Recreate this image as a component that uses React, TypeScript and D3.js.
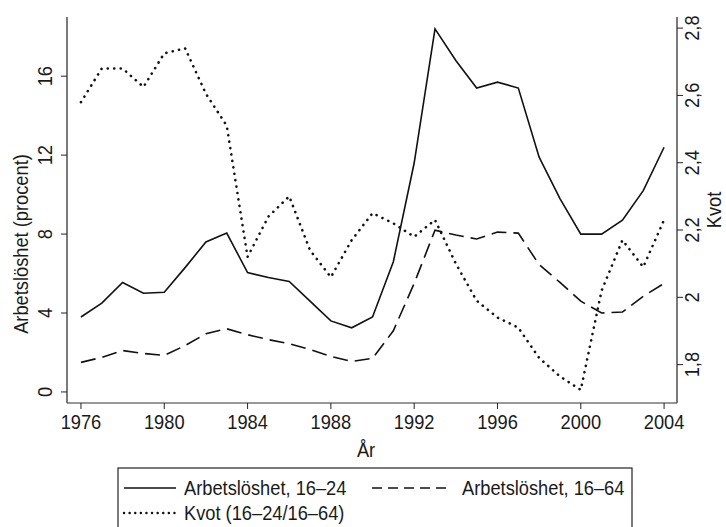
import React from 'react';
import { scaleLinear, line } from 'd3';

// Arbetslöshet bland unga (16-24) och hela arbetskraften (16-64), samt kvoten
const years = [1976, 1977, 1978, 1979, 1980, 1981, 1982, 1983, 1984, 1985, 1986, 1987, 1988, 1989, 1990,
  1991, 1992, 1993, 1994, 1995, 1996, 1997, 1998, 1999, 2000, 2001, 2002, 2003, 2004];
const unemp1624 = [3.8, 4.5, 5.55, 5.0, 5.05, 6.3, 7.6, 8.05, 6.05, 5.8, 5.6, 4.6, 3.6, 3.25, 3.8,
  6.6, 11.6, 18.4, 16.8, 15.4, 15.7, 15.4, 11.9, 9.8, 8.0, 8.0, 8.7, 10.2, 12.4];
const unemp1664 = [1.5, 1.75, 2.1, 1.95, 1.85, 2.35, 2.95, 3.2, 2.9, 2.65, 2.45, 2.15, 1.8, 1.55, 1.7,
  3.1, 5.5, 8.2, 7.95, 7.75, 8.1, 8.05, 6.45, 5.55, 4.6, 4.0, 4.05, 4.85, 5.5];
const kvot = [2.58, 2.68, 2.68, 2.625, 2.725, 2.74, 2.605, 2.51, 2.12, 2.24, 2.3, 2.14, 2.06, 2.17, 2.25,
  2.22, 2.18, 2.23, 2.1, 1.99, 1.94, 1.91, 1.82, 1.765, 1.725, 2.02, 2.17, 2.09, 2.23];

const xTicks = [1976, 1980, 1984, 1988, 1992, 1996, 2000, 2004];
const leftTicks = [0, 4, 8, 12, 16];
const rightTicks = [1.8, 2, 2.2, 2.4, 2.6, 2.8];

const W = 726, H = 527;
const plot = { left: 67, right: 677, top: 17, bottom: 403 };

const x = scaleLinear().domain([1975.33, 2004.62]).range([plot.left, plot.right]);
const yLeft = scaleLinear().domain([-0.56, 19.0]).range([plot.bottom, plot.top]);
const yRight = scaleLinear().domain([1.686, 2.833]).range([plot.bottom, plot.top]);

const fmtComma = (v: number) => (Math.round(v * 10) / 10).toString().replace('.', ',');

// smal text (som Arial Narrow): Liberation Sans ihoptryckt i x-led
const NarrowText = ({ x, y, rotate = 0, anchor = 'start', children }: any) => (
  <text
    transform={`translate(${x},${y}) rotate(${rotate}) scale(0.87,1)`}
    textAnchor={anchor}
    fontFamily="'Liberation Sans', Arial, sans-serif"
    fontSize={21}
    fill="#1a1a1a"
  >
    {children}
  </text>
);

export default function App() {
  const lineLeft = line<number>().x((_, i) => x(years[i])).y(d => yLeft(d));
  const lineRight = line<number>().x((_, i) => x(years[i])).y(d => yRight(d));

  return (
    <svg width={W} height={H} style={{ position: 'absolute', left: 0, top: 0, background: '#fff' }}>
      <rect width={W} height={H} fill="#fff" />

      {/* axlar */}
      <line x1={plot.left} x2={plot.left} y1={plot.top} y2={plot.bottom} stroke="#222" strokeWidth={1.2} />
      <line x1={plot.right} x2={plot.right} y1={plot.top} y2={plot.bottom} stroke="#222" strokeWidth={1.2} />
      <line x1={plot.left} x2={plot.right} y1={plot.bottom} y2={plot.bottom} stroke="#333" strokeWidth={1.2} />

      {xTicks.map(t => (
        <g key={t}>
          <line x1={x(t)} x2={x(t)} y1={plot.bottom} y2={plot.bottom + 6} stroke="#222" />
          <NarrowText x={x(t)} y={429} anchor="middle">{t}</NarrowText>
        </g>
      ))}
      <NarrowText x={366} y={457} anchor="middle">År</NarrowText>

      {leftTicks.map(t => (
        <g key={t}>
          <line x1={plot.left - 6} x2={plot.left} y1={yLeft(t)} y2={yLeft(t)} stroke="#222" />
          <NarrowText x={52} y={yLeft(t)} rotate={-90} anchor="middle">{t}</NarrowText>
        </g>
      ))}
      <NarrowText x={28} y={244} rotate={-90} anchor="middle">Arbetslöshet (procent)</NarrowText>

      {rightTicks.map(t => (
        <g key={t}>
          <line x1={plot.right} x2={plot.right + 6} y1={yRight(t)} y2={yRight(t)} stroke="#222" />
          <NarrowText x={699} y={yRight(t)} rotate={-90} anchor="middle">{fmtComma(t)}</NarrowText>
        </g>
      ))}
      <NarrowText x={721} y={(plot.top + plot.bottom) / 2} rotate={-90} anchor="middle">Kvot</NarrowText>

      {/* serier */}
      <path d={lineLeft(unemp1624) || ''} fill="none" stroke="#111" strokeWidth={1.6} />
      <path d={lineLeft(unemp1664) || ''} fill="none" stroke="#111" strokeWidth={1.6} strokeDasharray="15 7" />
      <path d={lineRight(kvot) || ''} fill="none" stroke="#111" strokeWidth={2.6}
        strokeDasharray="0.1 6.4" strokeLinecap="round" />

      {/* legend */}
      <rect x={118} y={468} width={514} height={80} fill="none" stroke="#222" strokeWidth={1.2} />
      <line x1={124} x2={176} y1={488} y2={488} stroke="#111" strokeWidth={1.6} />
      <NarrowText x={184} y={495}>Arbetslöshet, 16–24</NarrowText>
      <line x1={372} x2={452} y1={488} y2={488} stroke="#111" strokeWidth={1.6} strokeDasharray="10 6" />
      <NarrowText x={462} y={495}>Arbetslöshet, 16–64</NarrowText>
      <line x1={124} x2={176} y1={513} y2={513} stroke="#111" strokeWidth={2.4}
        strokeDasharray="0.1 5.5" strokeLinecap="round" />
      <NarrowText x={184} y={520}>Kvot (16–24/16–64)</NarrowText>
    </svg>
  );
}
